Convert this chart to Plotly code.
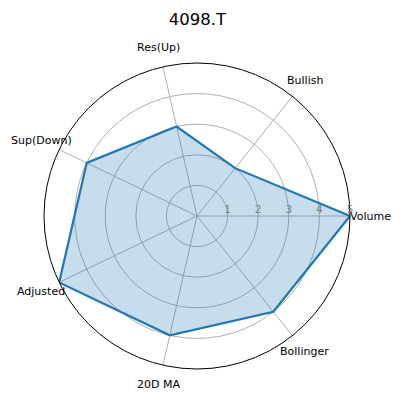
import math
import plotly.graph_objects as go

categories = ["Volume", "Bullish", "Res(Up)", "Sup(Down)", "Adjusted", "20D MA", "Bollinger"]
values = [5, 2, 3, 4, 5, 4, 4]
radial_ticks = [1, 2, 3, 4, 5]

W = H = 401
cx, cy, R = 197, 216, 153   # polar centre and radius in pixels

# close the loop
theta = categories + [categories[0]]
r = values + [values[0]]

fig = go.Figure()
fig.add_trace(go.Scatterpolar(
    r=r, theta=theta, mode="lines", fill="toself",
    fillcolor="rgba(31,119,180,0.25)",
    line=dict(color="#1f77b4", width=2.2),
    showlegend=False,
))

# category labels placed a bit outside the circle, centred like matplotlib does
label_r = R + 20
for i, name in enumerate(categories):
    a = 2 * math.pi * i / len(categories)
    fig.add_annotation(
        text=name, showarrow=False, xref="paper", yref="paper",
        x=(cx + label_r * math.cos(a)) / W,
        y=1 - (cy - label_r * math.sin(a)) / H,
        xanchor="center", yanchor="middle",
        font=dict(size=11, color="black"),
    )

fig.update_layout(
    width=W, height=H,
    margin=dict(l=0, r=0, t=0, b=0),
    paper_bgcolor="white",
    font=dict(family="DejaVu Sans", size=10, color="black"),
    title=dict(text="4098.T", x=0.4925, xanchor="center", y=1 - 19 / H, yanchor="middle",
               font=dict(size=16.5, color="black")),
    polar=dict(
        domain=dict(x=[(cx - R) / W, (cx + R) / W], y=[1 - (cy + R) / H, 1 - (cy - R) / H]),
        bgcolor="white",
        angularaxis=dict(
            rotation=0, direction="counterclockwise",
            showline=True, linecolor="black", linewidth=1,
            gridcolor="#b0b0b0", gridwidth=1,
            ticks="", showticklabels=False,
        ),
        radialaxis=dict(
            range=[0, 5], tickvals=radial_ticks, angle=0, tickangle=0,
            side="counterclockwise",
            showline=False, ticks="",
            gridcolor="#b0b0b0", gridwidth=1,
            tickfont=dict(size=10.5, color="#808080"),
        ),
    ),
)

# drop the default page margin so the figure sits at the window corner
fig.write_html("out.html", config={"displayModeBar": False},
               post_script="document.body.style.margin='0';")
